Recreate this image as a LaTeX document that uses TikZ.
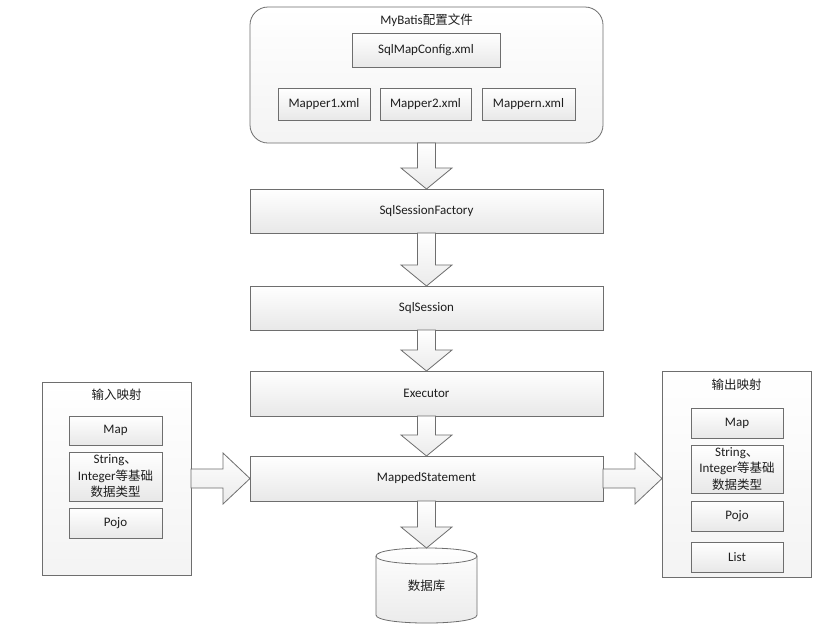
\documentclass[tikz,border=0pt]{standalone}
\usepackage{fontspec}
\setmainfont{Carlito}
\newfontfamily\cjk{Noto Sans CJK SC}
\usetikzlibrary{calc,backgrounds}
\definecolor{edgec}{HTML}{6E6E6E}
\definecolor{txtc}{HTML}{1E1E1E}
\tikzset{
  box/.style={draw=edgec, line width=0.8pt, top color=white, bottom color=gray!18,
    text=txtc, font=\fontsize{13}{16.5}\selectfont, inner sep=0pt, outer sep=0pt, align=center},
  container/.style={box, top color=white, bottom color=gray!9},
  lbl/.style={text=txtc, font=\fontsize{13}{16}\selectfont, inner sep=0pt, outer sep=0pt},
  blk/.style={draw=edgec, line width=0.8pt, top color=white, bottom color=gray!16, line join=miter},
}
\newcommand\blkdown[2]{%
  \path[blk] let \p1=(#1.south), \p2=(#2.north) in
    (\x1-9pt,\y1) -- (\x1-9pt,\y2+21pt) -- (\x1-25.5pt,\y2+21pt) -- (\x1,\y2)
    -- (\x1+25.5pt,\y2+21pt) -- (\x1+9pt,\y2+21pt) -- (\x1+9pt,\y1) -- cycle;}
\newcommand\blkright[3]{%
  \path[blk] let \p1=(#1.east), \p2=(#2.west), \p3=(#3.center) in
    (\x1,\y3+9.5pt) -- (\x2-27pt,\y3+9.5pt) -- (\x2-27pt,\y3+25.5pt) -- (\x2,\y3)
    -- (\x2-27pt,\y3-25.5pt) -- (\x2-27pt,\y3-9.5pt) -- (\x1,\y3-9.5pt) -- cycle;}
\begin{document}
\begin{tikzpicture}[x=1pt,y=-1pt]
\begin{scope}[on background layer]
\fill[white] (0,0) rectangle (826,630);
\end{scope}
\useasboundingbox (0,0) rectangle (826,630);

% MyBatis config
\node[container, rounded corners=18pt, minimum width=353, minimum height=136] (cfg) at (426.5,75) {};
\node[lbl] (cfgtitle) at (426.5,20) {MyBatis{\cjk\fontsize{12.5}{15}\selectfont 配置文件}};
\node[box, minimum width=148, minimum height=34] (smc) at (426,50) {SqlMapConfig.xml};
\node[box, minimum width=92, minimum height=32] (m1) at (324,104) {Mapper1.xml};
\node[box, minimum width=91, minimum height=32] (m2) at (425.5,104) {Mapper2.xml};
\node[box, minimum width=93, minimum height=32] (mn) at (528.5,104) {Mappern.xml};

% main chain
\node[box, minimum width=353, minimum height=44] (ssf) at (426.5,211) {SqlSessionFactory};
\node[box, minimum width=353, minimum height=44] (ss) at (426.5,308) {SqlSession};
\node[box, minimum width=353, minimum height=45] (ex) at (426.5,393.5) {Executor};
\node[box, minimum width=353, minimum height=45] (ms) at (426.5,478.5) {MappedStatement};

% database
\node[lbl, minimum width=101, minimum height=75] (db) at (426.5,585.5)
  {\cjk\fontsize{12.5}{15}\selectfont 数据库};
\begin{scope}[on background layer]
\path[blk] (db.north west) ++(0,8) coordinate (dbtl) -- ($(db.south west)+(0,-8)$)
  .. controls ($(db.south west)+(0,2.7)$) and ($(db.south east)+(0,2.7)$) .. ($(db.south east)+(0,-8)$)
  -- ($(db.north east)+(0,8)$)
  .. controls ($(db.north east)+(0,-2.7)$) and ($(db.north west)+(0,-2.7)$) .. (dbtl) -- cycle;
\draw[edgec, line width=0.8pt] (dbtl) .. controls ($(dbtl)+(0,10.7)$) and ($(db.north east)+(0,18.7)$) .. ($(db.north east)+(0,8)$);
\end{scope}

% input mapping
\node[container, minimum width=149, minimum height=193] (inbox) at (116.5,478.5) {};
\node[lbl] (intitle) at (116.5,395) {\cjk\fontsize{12.5}{15}\selectfont 输入映射};
\node[box, minimum width=93, minimum height=29] (inmap) at (115.5,430.5) {Map};
\node[box, minimum width=93, minimum height=49] (instr) at (115.5,476.5)
  {String{\cjk 、}\\Integer{\cjk\fontsize{12.5}{16.5}\selectfont 等基础}\\{\cjk\fontsize{12.5}{16.5}\selectfont 数据类型}};
\node[box, minimum width=93, minimum height=30] (inpojo) at (115.5,523) {Pojo};

% output mapping
\node[container, minimum width=149, minimum height=206] (outbox) at (736.5,474) {};
\node[lbl] (outtitle) at (736.5,385) {\cjk\fontsize{12.5}{15}\selectfont 输出映射};
\node[box, minimum width=92, minimum height=30] (outmap) at (737,423) {Map};
\node[box, minimum width=92, minimum height=48] (outstr) at (737,469)
  {String{\cjk 、}\\Integer{\cjk\fontsize{12.5}{16.5}\selectfont 等基础}\\{\cjk\fontsize{12.5}{16.5}\selectfont 数据类型}};
\node[box, minimum width=92, minimum height=30] (outpojo) at (737,516) {Pojo};
\node[box, minimum width=92, minimum height=30] (outlist) at (737,557) {List};

% block arrows
\blkdown{cfg}{ssf}
\blkdown{ssf}{ss}
\blkdown{ss}{ex}
\blkdown{ex}{ms}
\blkdown{ms}{db}
\blkright{inbox}{ms}{ms}
\blkright{ms}{outbox}{ms}
\end{tikzpicture}
\end{document}
